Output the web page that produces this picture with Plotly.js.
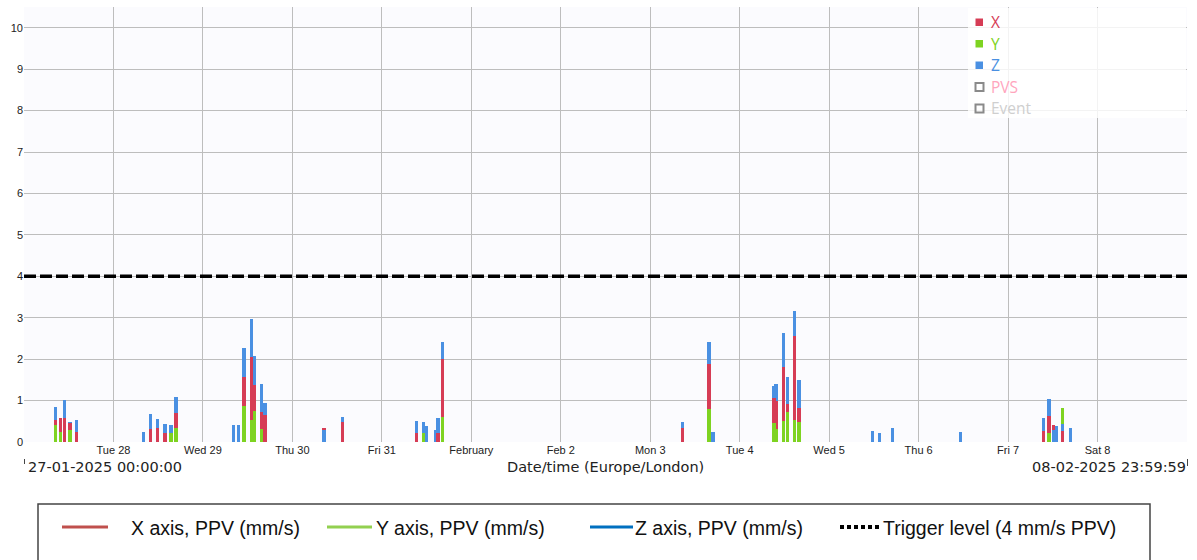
<!DOCTYPE html>
<html>
<head>
<meta charset="utf-8">
<script src="https://cdn.plot.ly/plotly-3.0.1.min.js"></script>
<style>html,body{margin:0;padding:0;background:#fff;}#chart{width:1197px;height:560px;}</style>
</head>
<body>
<div id="chart"></div>
<script>
// ---- data ----
const eventTimes = [
  '2025-01-27 08:29','2025-01-27 09:50','2025-01-27 10:55','2025-01-27 12:23','2025-01-27 14:00',
  '2025-01-28 08:06','2025-01-28 09:51','2025-01-28 11:44','2025-01-28 13:52','2025-01-28 15:29','2025-01-28 16:49',
  '2025-01-29 08:07','2025-01-29 09:32','2025-01-29 11:04','2025-01-29 12:57','2025-01-29 13:50','2025-01-29 15:46','2025-01-29 16:37',
  '2025-01-30 08:27','2025-01-30 13:26',
  '2025-01-31 09:18','2025-01-31 11:14','2025-01-31 11:54','2025-01-31 14:27','2025-01-31 15:02','2025-01-31 16:20',
  '2025-02-03 08:35','2025-02-03 15:45','2025-02-03 16:51',
  '2025-02-04 09:13','2025-02-04 09:45','2025-02-04 11:50','2025-02-04 12:46','2025-02-04 14:38','2025-02-04 15:54',
  '2025-02-05 11:42','2025-02-05 13:27','2025-02-05 16:59',
  '2025-02-06 11:19',
  '2025-02-07 09:35','2025-02-07 10:56','2025-02-07 12:08','2025-02-07 13:04','2025-02-07 14:41','2025-02-07 16:47'
];
const xPPV = [
  0.54,0.59,0.57,0.47,0.25,
  0,0.31,0.33,0.21,0,0.69,
  0,0,1.56,2.04,1.38,0.73,0.64,
  0.34,0.48,
  0.21,0,0,0,0.21,2.00,
  0.35,1.88,0,
  1.06,1.00,1.80,0.92,2.56,0.83,
  0,0,0,
  0,
  0.27,0.63,0.41,0,0.27,0
];
const yPPV = [
  0.42,0.25,0,0.29,0,
  0,0,0,0,0.21,0.33,
  0,0,0.88,0.53,0.75,0.31,0,
  0,0,
  0,0.21,0,0,0,0.61,
  0,0.80,0,
  0.45,0.31,0.51,0.73,0.52,0.48,
  0,0,0,
  0,
  0,0.22,0,0,0.81,0
];
const zPPV = [
  0.84,0,1.01,0.49,0.53,
  0.25,0.67,0.55,0.43,0.41,1.09,
  0.40,0.40,2.26,2.97,2.08,1.39,0.93,
  0.28,0.60,
  0.50,0.48,0.38,0.30,0.57,2.41,
  0.48,2.41,0.23,
  1.34,1.39,2.62,1.56,3.17,1.50,
  0.27,0.21,0.35,
  0.23,
  0.57,1.03,0.28,0.39,0.44,0.35
];
const triggerLevel = 4;
const rangeStart = '2025-01-27 00:00:00';
const rangeEnd = '2025-02-08 23:59:59';
const tickDates = ['2025-01-28','2025-01-29','2025-01-30','2025-01-31','2025-02-01','2025-02-02',
                   '2025-02-03','2025-02-04','2025-02-05','2025-02-06','2025-02-07','2025-02-08'];
const tickLabels = ['Tue 28','Wed 29','Thu 30','Fri 31','February','Feb 2','Mon 3','Tue 4','Wed 5','Thu 6','Fri 7','Sat 8'];
const yTicks = [0,1,2,3,4,5,6,7,8,9,10];
const seriesNames = ['X','Y','Z'];
const legendNames = ['X axis, PPV (mm/s)','Y axis, PPV (mm/s)','Z axis, PPV (mm/s)','Trigger level (4 mm/s PPV)'];

// ---- styles ----
const barColors = {X:'#d63c55', Y:'#7ed321', Z:'#4a90e2'};
const legLineColors = ['#c0504d','#92d050','#0070c0','#000000'];

// ---- build overlaid bars: largest behind, smallest in front ----
const series = {X:xPPV, Y:yPPV, Z:zPPV};
const ranks = [0,1,2].map(() => ({x:[], y:[], c:[]}));
eventTimes.forEach((t,i) => {
  const items = seriesNames.map(n => ({v:series[n][i], c:barColors[n]}))
    .filter(o => o.v > 0).sort((a,b) => b.v - a.v);
  items.forEach((o,k) => { ranks[k].x.push(t); ranks[k].y.push(o.v); ranks[k].c.push(o.c); });
});
const barWidth = 3.25e6;
const traces = ranks.map(r => ({
  type:'bar', x:r.x, y:r.y, width:barWidth,
  marker:{color:r.c, line:{width:0}}, showlegend:false, hoverinfo:'x+y'
}));
traces.push({
  type:'scatter', mode:'lines', x:[rangeStart, rangeEnd], y:[triggerLevel, triggerLevel],
  line:{color:'#000', width:3.5, dash:'12px,4px'}, showlegend:false, hoverinfo:'skip'
});

// ---- pixel helpers for decorations ----
const L = 24, R = 1187, T = 7, B = 442;
const px = v => (v - L) / (R - L);
const py = v => (B - v) / (B - T);

const shapes = [];
const annotations = [];

// top-right legend box
shapes.push({type:'rect', xref:'paper', yref:'paper', x0:px(968), x1:px(1186), y0:py(118), y1:py(8),
  fillcolor:'rgba(255,255,255,0.82)', line:{width:0}, layer:'above'});
const topItems = [
  {t:'X', c:barColors.X, fill:true},
  {t:'Y', c:barColors.Y, fill:true},
  {t:'Z', c:barColors.Z, fill:true},
  {t:'PVS', c:'#ffa5bd', fill:false},
  {t:'Event', c:'#cfcfcf', fill:false}
];
topItems.forEach((it,k) => {
  const cy = 22 + k*21.5;
  if (it.fill) {
    shapes.push({type:'rect', xref:'paper', yref:'paper', x0:px(975.5), x1:px(983), y0:py(cy+4), y1:py(cy-3.5),
      fillcolor:it.c, line:{width:0}, layer:'above'});
  } else {
    shapes.push({type:'rect', xref:'paper', yref:'paper', x0:px(975.5), x1:px(983.5), y0:py(cy+4.5), y1:py(cy-3.5),
      fillcolor:'rgba(0,0,0,0)', line:{width:2, color:'#8a8a8a'}, layer:'above'});
  }
  annotations.push({xref:'paper', yref:'paper', x:px(989), y:py(cy), xanchor:'left', yanchor:'middle',
    text:it.t, showarrow:false, font:{family:'Open Sans, Noto Sans, sans-serif', size:15.5, color:it.c}});
});

// bottom texts
annotations.push({xref:'paper', yref:'paper', x:px(26), y:py(467), xanchor:'left', yanchor:'middle',
  text:'27-01-2025 00:00:00', showarrow:false, font:{family:'DejaVu Sans, sans-serif', size:14.5, color:'#222'}});
annotations.push({xref:'paper', yref:'paper', x:px(605), y:py(467), xanchor:'center', yanchor:'middle',
  text:'Date/time (Europe/London)', showarrow:false, font:{family:'DejaVu Sans, sans-serif', size:14.5, color:'#222'}});
annotations.push({xref:'paper', yref:'paper', x:px(1188), y:py(467), xanchor:'right', yanchor:'middle',
  text:'08-02-2025 23:59:59', showarrow:false, font:{family:'DejaVu Sans, sans-serif', size:14.5, color:'#222'}});
shapes.push({type:'line', xref:'paper', yref:'paper', x0:px(24.5), x1:px(24.5), y0:py(464), y1:py(459), line:{color:'#444', width:1}});
shapes.push({type:'line', xref:'paper', yref:'paper', x0:px(1187.5), x1:px(1187.5), y0:py(466), y1:py(459), line:{color:'#444', width:1}});

// bottom legend box
shapes.push({type:'rect', xref:'paper', yref:'paper', x0:px(38), x1:px(1150), y0:py(600), y1:py(504),
  fillcolor:'#fff', line:{color:'#444', width:1.5}});
const legX = [[62,108,129],[327,372,374],[590,633,633],[840,880,881]];
legendNames.forEach((n,k) => {
  shapes.push({type:'line', xref:'paper', yref:'paper', x0:px(legX[k][0]), x1:px(legX[k][1]), y0:py(527), y1:py(527),
    line:{color:legLineColors[k], width:k===3?4:3, dash:k===3?'4px,3px':'solid'}});
  annotations.push({xref:'paper', yref:'paper', x:px(legX[k][2]), y:py(527.5), xanchor:'left', yanchor:'middle',
    text:n, showarrow:false, font:{family:'Liberation Sans Narrow, Arial Narrow, Liberation Sans, sans-serif', size:19.5, color:'#111'}});
});

const layout = {
  width:1197, height:560,
  margin:{l:L, r:1197-R, t:T, b:560-B, pad:0},
  paper_bgcolor:'#ffffff', plot_bgcolor:'#fbfbfe',
  barmode:'overlay', bargap:0,
  showlegend:false,
  xaxis:{type:'date', range:[rangeStart, rangeEnd], tickmode:'array', tickvals:tickDates, ticktext:tickLabels,
    showgrid:true, gridcolor:'#bdbdbd', gridwidth:1, zeroline:false, showline:false, ticks:'',
    tickfont:{family:'Liberation Sans, Arial, sans-serif', size:11, color:'#222'}, fixedrange:true},
  yaxis:{range:[0,10.5], tickmode:'array', tickvals:yTicks, ticktext:yTicks.map(String),
    showgrid:true, gridcolor:'#bdbdbd', gridwidth:1, zeroline:false, showline:false, ticks:'',
    tickfont:{family:'Liberation Sans, Arial, sans-serif', size:11, color:'#222'}, fixedrange:true},
  shapes:shapes, annotations:annotations
};
Plotly.newPlot('chart', traces, layout, {displayModeBar:false, staticPlot:true});
</script>
</body>
</html>
